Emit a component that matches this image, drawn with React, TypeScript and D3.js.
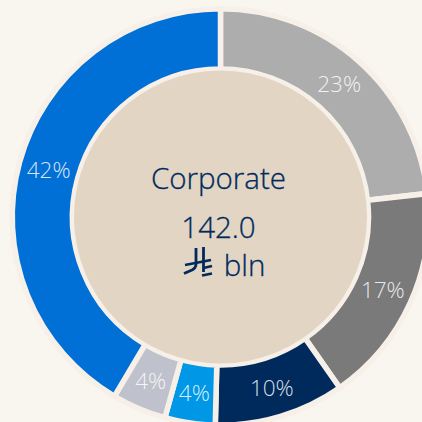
import React from "react";
import * as d3 from "d3";

const categories = ["A", "B", "C", "D", "E", "F"];
const shares = [23.2, 17.1, 10.1, 3.9, 4.2, 41.5];
const labels = ["23%", "17%", "10%", "4%", "4%", "42%"];
const colors = ["#adadad", "#7a7a7a", "#002a5c", "#0098e6", "#bfc1cc", "#006fd6"];
const title = "Corporate";
const amount = "142.0";
const unit = "bln";

const W = 422;
const cx = 220.5;
const cy = 217;
const R = 208.25;
const r0 = 148;
const font = "'Open Sans', 'Noto Sans', sans-serif";

export default function App() {
  const pie = d3.pie<number>().value((d) => d).sort(null);
  const arcs = pie(shares);
  const arc = d3.arc<d3.PieArcDatum<number>>().innerRadius(r0).outerRadius(R);
  return (
    <svg width={W} height={W} style={{ position: "fixed", left: 0, top: 0, background: "#f9f5ef" }}>
      <circle cx={cx} cy={cy} r={R + 0.5} fill="#f6f0e9" />
      <g transform={`translate(${cx},${cy})`}>
        {arcs.map((a, i) => (
          <path key={categories[i]} d={arc(a) ?? ""} fill={colors[i]} stroke="#f6f0e9" strokeWidth={5.5} strokeLinejoin="miter" />
        ))}
        <circle r={146.5} fill="#e2d5c3" />
        {arcs.map((a, i) => {
          const [x, y] = arc.centroid(a);
          return (
            <text key={categories[i]} x={x} y={y + 8} textAnchor="middle" fontFamily={font} fontWeight={300} fontSize={22.5} fill="#ffffff" fillOpacity={0.85}>
              {labels[i]}
            </text>
          );
        })}
      </g>
      <g fill="#002a5c" stroke="#002a5c" strokeWidth={0.3} fontFamily={font} fontWeight={300} textAnchor="middle">
        <text x={218.5} y={189} fontSize={29.5}>{title}</text>
        <text x={218.5} y={238} fontSize={29.5}>{amount}</text>
        <text x={244.5} y={276} fontSize={29.5}>{unit}</text>
      </g>
      <g fill="none" stroke="#002a5c" strokeWidth={2.8}>
        <path d="M196 248 L196 264 Q196 268 192 270 L184 273.5" />
        <path d="M203.5 247 L203.5 272" />
        <path d="M185 265 L211 260" />
        <path d="M203.5 268 L212 266 M202 275.5 L212 273.5" />
      </g>
    </svg>
  );
}
